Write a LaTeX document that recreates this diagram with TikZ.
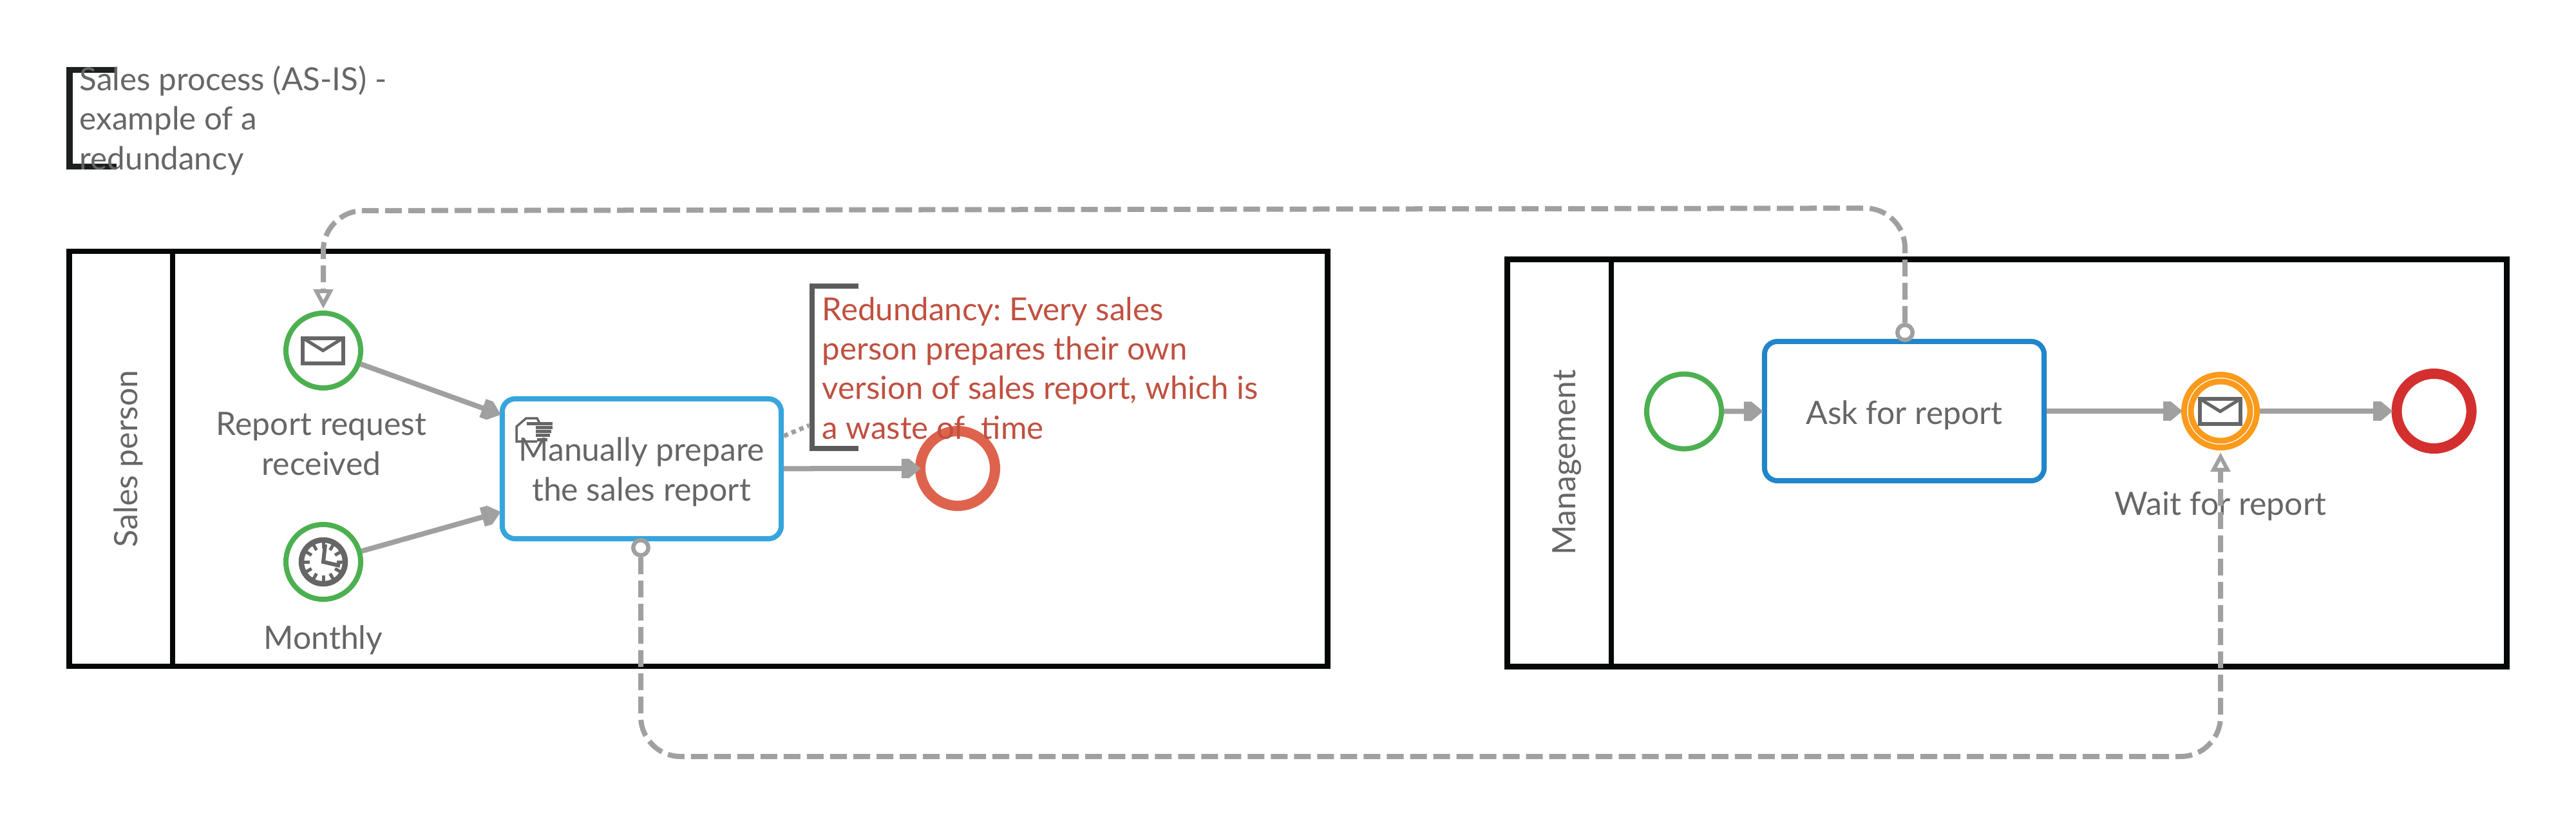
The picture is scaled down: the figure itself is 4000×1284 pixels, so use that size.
\documentclass[tikz,border=0pt]{standalone}
\usepackage{fontspec}
\setmainfont{Lato}
\frenchspacing
\usetikzlibrary{arrows.meta}
\definecolor{linegrey}{HTML}{A0A0A0}
\definecolor{textgrey}{HTML}{666666}
\definecolor{lanedark}{HTML}{030707}
\definecolor{evgreen}{HTML}{4CB050}
\definecolor{evorange}{HTML}{FB9A1B}
\definecolor{evred}{HTML}{D32F2F}
\definecolor{evcoral}{HTML}{DE634D}
\definecolor{taskblue}{HTML}{36A5DD}
\definecolor{askblue}{HTML}{2185C9}
\definecolor{notered}{HTML}{C05040}
\definecolor{notegrey}{HTML}{5B5B5B}
\begin{document}
\begin{tikzpicture}[
    x=0.01cm, y=-0.01cm,
    every node/.style={font=\fontsize{14.2}{17.36}\selectfont, text=textgrey},
    lane/.style={rectangle, draw=lanedark, line width=0.085cm, inner sep=0pt},
    lanetitle/.style={anchor=base, rotate=90, inner sep=0pt},
    lbl/.style={anchor=base, align=center, inner sep=0pt},
    notetext/.style={anchor=base west, align=left, inner sep=0pt},
    startev/.style={circle, draw=evgreen, fill=white, line width=0.08cm, minimum size=1.16cm, inner sep=0pt},
    endev/.style={circle, fill=white, line width=0.16cm, minimum size=1.16cm, inner sep=0pt},
    waitev/.style={circle, draw=evorange, fill=white, line width=0.09cm, inner sep=0pt},
    task/.style={rectangle, rounded corners=0.2cm, fill=white, line width=0.08cm, align=center, inner sep=0pt},
    envicon/.style={rectangle, draw=textgrey, line width=0.06cm, minimum width=0.63cm, minimum height=0.39cm, outer sep=0pt, inner sep=0pt},
    flowstart/.style={circle, draw=linegrey, fill=white, line width=0.065cm, minimum size=0.235cm, inner sep=0pt},
    seqflow/.style={draw=linegrey, line width=0.08cm, shorten >=-0.02cm, -{Rectangle[length=0.11cm,width=0.3cm,sep=0pt]Triangle[length=0.19cm,width=0.3cm]}},
    msgflow/.style={draw=linegrey, line width=0.08cm, dash pattern=on 0.26cm off 0.1cm, rounded corners=0.62cm,
        -{Triangle[open,length=0.3cm,width=0.3cm,line width=0.06cm]}, shorten >=0.03cm},
    assoc/.style={draw=linegrey, line width=0.07cm, dash pattern=on 0.07cm off 0.06cm}
]
\useasboundingbox (0,0) rectangle (4000,1284);

% title note
\draw[draw=lanedark!90!white, line width=0.09cm] (181,108) -- (108,108) -- (108,258.5) -- (181,258.5);
\node[notetext, font=\fontsize{14.05}{17.36}\selectfont] (titlenote) at (123,263) {Sales process (AS-IS) -\\example of a\\redundancy};

% sales person lane
\node[lane, minimum width=19.53cm, minimum height=6.44cm] (saleslane) at (1084.5,712) {};
\node[lane, minimum width=1.6cm, minimum height=6.44cm] (saleshead) at (188,712) {};
\node[lanetitle] (salestitle) at (213,712) {Sales person};

% management lane
\node[lane, minimum width=15.51cm, minimum height=6.32cm] (mgmtlane) at (3116.5,718.5) {};
\node[lane, minimum width=1.61cm, minimum height=6.32cm] (mgmthead) at (2421.5,718.5) {};
\node[lanetitle] (mgmttitle) at (2446,718) {Management};

% sales person events and task
\node[startev] (reqevent) at (502,544) {};
\node[envicon] (reqenv) at (501.5,544) {};
\draw[draw=textgrey, line width=0.05cm] (reqenv.north west) -- (reqenv.center) -- (reqenv.north east);
\node[lbl] (reqlabel) at (499,737) {Report request\\received};

\node[startev] (monthevent) at (502,872) {};
\node[circle, draw=textgrey, line width=0.085cm, minimum size=0.68cm, inner sep=0pt] (monthclock) at (502,872) {};
\foreach \a in {0,30,...,330}
    \draw[draw=textgrey, line width=0.05cm] (monthclock.center) ++(\a:21) -- ++(\a:12);
\draw[draw=textgrey, line width=0.06cm] (505,845) -- (monthclock.center) -- (528,878);
\node[lbl] (monthlabel) at (502,1007) {Monthly};

\node[task, draw=taskblue, minimum width=4.33cm, minimum height=2.17cm] (prepare) at (996.5,727.5) {};
\node[lbl] (preparelabel) at (996,777) {Manually prepare\\the sales report};
% hand icon
\draw[draw=textgrey, line width=0.035cm] (834,685) -- (802,685) -- (802,662) -- (817,649) -- (834,649) -- (838,657);
\draw[draw=textgrey, line width=0.05cm] (818,657) -- (858,657) (832,663) -- (858,663) (832,669) -- (856,669) (832,675) -- (854,675) (834,682) -- (850,682);

\node[endev, draw=evcoral] (salesend) at (1487,727) {};

% redundancy note
\draw[draw=notegrey, line width=0.085cm] (1333,444) -- (1261,444) -- (1261,696) -- (1333,696);
\node[notetext, text=notered, font=\fontsize{14}{17.36}\selectfont] (rednote) at (1276,681) {Redundancy: Every sales\\person prepares their own\\version of sales report, which is\\a waste of\ \ time};
\coordinate (redmark) at (1257,660);

% management events and task
\node[startev] (mgmtstart) at (2615,638.5) {};
\node[task, draw=askblue, minimum width=4.34cm, minimum height=2.16cm] (ask) at (2957,638) {};
\node[lbl] (asklabel) at (2957,658) {Ask for report};
\node[waitev, minimum size=1.13cm] (waitevent) at (3448,638) {};
\node[waitev, minimum size=0.92cm] (waitring) at (3448,638) {};
\node[envicon] (waitenv) at (3447.5,638.5) {};
\draw[draw=textgrey, line width=0.05cm] (waitenv.north west) -- (waitenv.center) -- (waitenv.north east);
\node[lbl] (waitlabel) at (3448,799) {Wait for report};
\node[endev, draw=evred] (mgmtend) at (3779.5,638) {};

% sequence flows
\draw[seqflow] (reqevent) -- (prepare.159);
\draw[seqflow] (monthevent) -- (prepare.197);
\draw[seqflow, shorten >=-0.09cm] (prepare) -- (salesend);
\draw[seqflow] (mgmtstart) -- (ask);
\draw[seqflow] (ask) -- (waitevent);
\draw[seqflow] (waitevent) -- (mgmtend);
\draw[assoc] (prepare.13) -- (redmark);

% message flows
\coordinate (asktop) at (2958,323);
\coordinate (reqtop) at (502,327);
\coordinate (preparelow) at (995,1174);
\coordinate (waitlow) at (3448,1174);
\node[flowstart] (askstart) at (2958,516) {};
\node[flowstart] (preparestart) at (995,850) {};
\draw[msgflow] (askstart) -- (asktop) -- (reqtop) -- (reqevent);
\draw[msgflow] (preparestart) -- (preparelow) -- (waitlow) -- (waitevent);
\end{tikzpicture}
\end{document}
